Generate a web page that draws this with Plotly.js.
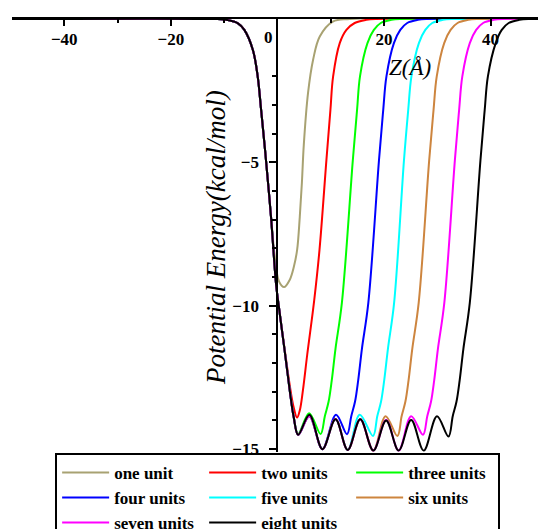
<!DOCTYPE html>
<html>
<head>
<meta charset="utf-8">
<script src="https://cdn.plot.ly/plotly-3.0.1.min.js"></script>
<style>html,body{margin:0;padding:0;background:#fff;}#chart{width:538px;height:529px;}</style>
</head>
<body>
<div id="chart"></div>
<script>
// Shared left wall
const leftWallX = [-50, -12, -9.9, -7.4, -6.2, -4.6, -3.7, -3.05, -2.3, -1.2];
const leftWallY = [0, 0, -0.02, -0.15, -0.38, -1.08, -2.0, -3.18, -4.6, -6.9];

const oneUnitX = [-0.6, 0.3, 1.25, 2.3, 3.1, 3.7, 4.2, 4.6, 4.95, 5.75, 6.7, 7.95, 10.4, 13.6, 50];
const oneUnitY = [-8.1, -9.15, -9.35, -9.1, -8.63, -8.05, -6.9, -5.7, -4.4, -2.58, -1.42, -0.61, -0.09, 0, 0];

const twoUnitsX = [-0.25, 0.25, 1.35, 2.3, 3.0, 3.68, 4.2, 4.8, 5.6, 6.9, 7.9, 9.2, 9.95, 10.45, 11.7, 12.95, 14.5, 16.7, 18.5, 50];
const twoUnitsY = [-9.25, -10.0, -11.5, -12.75, -13.5, -13.9, -13.65, -12.93, -11.7, -9.82, -8.05, -4.91, -3.17, -2.01, -0.84, -0.38, -0.14, -0.03, 0, 0];

const threeUnitsX = [-0.25, 0.25, 1.35, 2.3, 3.05, 3.9, 5.95, 8.1, 8.9, 9.6, 10.2, 10.9, 12.1, 14.15, 14.95, 15.5, 16.9, 18.1, 19.4, 21.4, 23, 50];
const threeUnitsY = [-9.25, -10.0, -11.55, -12.93, -13.87, -14.47, -13.75, -14.47, -13.85, -13.35, -12.6, -11.5, -9.9, -4.93, -3.17, -2.0, -0.84, -0.38, -0.14, -0.03, 0, 0];

const fourUnitsX = [-0.25, 0.25, 1.35, 2.3, 3.05, 3.9, 6.0, 8.45, 11.0, 13.06, 13.86, 14.56, 15.16, 15.86, 17.06, 19.06, 19.86, 20.46, 21.86, 23.06, 24.36, 26.36, 28, 50];
const fourUnitsY = [-9.25, -10.0, -11.55, -12.93, -13.87, -14.5, -13.85, -15.0, -13.8, -14.48, -13.85, -13.35, -12.6, -11.5, -9.9, -4.93, -3.17, -2.0, -0.84, -0.38, -0.14, -0.03, 0, 0];

const fiveUnitsX = [-0.25, 0.25, 1.35, 2.3, 3.05, 3.9, 6.0, 8.45, 10.9, 13.2, 15.45, 17.94, 18.74, 19.44, 20.04, 20.74, 21.9, 23.75, 24.55, 25.15, 26.55, 27.75, 29.05, 31.05, 33, 50];
const fiveUnitsY = [-9.25, -10.0, -11.55, -12.93, -13.87, -14.5, -13.85, -15.0, -13.95, -15.03, -13.8, -14.54, -13.85, -13.35, -12.6, -11.5, -9.9, -4.93, -3.17, -2.0, -0.84, -0.38, -0.14, -0.03, 0, 0];

const sixUnitsX = [-0.25, 0.25, 1.35, 2.3, 3.05, 3.9, 6.0, 8.45, 10.9, 13.2, 15.55, 18.0, 20.3, 22.51, 23.31, 24.01, 24.61, 25.31, 26.51, 28.48, 29.3, 29.9, 31.3, 32.5, 33.8, 35.8, 37.5, 50];
const sixUnitsY = [-9.25, -10.0, -11.55, -12.93, -13.87, -14.5, -13.85, -15.0, -13.95, -15.03, -13.96, -15.05, -13.85, -14.54, -13.85, -13.35, -12.6, -11.5, -9.9, -4.93, -3.17, -2.0, -0.84, -0.38, -0.14, -0.03, 0, 0];

const sevenUnitsX = [-0.25, 0.25, 1.35, 2.3, 3.05, 3.9, 6.0, 8.45, 10.9, 13.2, 15.55, 18.0, 20.4, 22.75, 25.1, 27.32, 28.12, 28.82, 29.42, 30.12, 31.32, 33.3, 34.1, 34.7, 36.1, 37.3, 38.6, 40.6, 42.3, 50];
const sevenUnitsY = [-9.25, -10.0, -11.55, -12.93, -13.87, -14.5, -13.85, -15.0, -13.95, -15.03, -13.96, -15.05, -13.98, -15.05, -13.85, -14.5, -13.85, -13.35, -12.6, -11.5, -9.9, -4.93, -3.17, -2.0, -0.84, -0.38, -0.14, -0.03, 0, 0];

const eightUnitsX = [-0.25, 0.25, 1.35, 2.3, 3.05, 3.9, 6.0, 8.45, 10.9, 13.2, 15.55, 18.0, 20.4, 22.75, 25.1, 27.45, 29.95, 32.1, 32.9, 33.6, 34.2, 34.9, 36.1, 38.1, 38.9, 39.5, 40.96, 42.1, 43.4, 45.4, 47.3, 50];
const eightUnitsY = [-9.25, -10.0, -11.55, -12.93, -13.87, -14.5, -13.8, -15.0, -13.96, -15.03, -13.96, -15.05, -14.0, -15.05, -13.98, -15.05, -13.85, -14.56, -13.85, -13.35, -12.6, -11.5, -9.9, -4.93, -3.17, -2.0, -0.84, -0.38, -0.14, -0.03, 0, 0];

const seriesNames = ['one unit', 'two units', 'three units', 'four units', 'five units', 'six units', 'seven units', 'eight units'];
const seriesColors = ['#a8a272', '#ff0000', '#00ff00', '#0000ff', '#00ffff', '#cd853f', '#ff00ff', '#000000'];
const seriesX = [oneUnitX, twoUnitsX, threeUnitsX, fourUnitsX, fiveUnitsX, sixUnitsX, sevenUnitsX, eightUnitsX];
const seriesY = [oneUnitY, twoUnitsY, threeUnitsY, fourUnitsY, fiveUnitsY, sixUnitsY, sevenUnitsY, eightUnitsY];

const xTickVals = [-40, -20, 20, 40];
const xTickText = ['\u221240', '\u221220', '20', '40'];
const yTickVals = [-15, -10, -5];
const yTickText = ['\u221215', '\u221210', '\u22125'];

const xRange = [-49.8, 48.9];
const yRange = [-15.1, 0];

const traces = seriesNames.map((name, i) => ({
  type: 'scatter', mode: 'lines', name: name,
  x: leftWallX.concat(seriesX[i]),
  y: leftWallY.concat(seriesY[i]),
  line: {color: seriesColors[i], width: 2, shape: 'spline', smoothing: 1},
  hoverinfo: 'skip'
}));

const serif = 'Liberation Serif, Times New Roman, serif';
const tickFont = {family: serif, size: 17, color: '#000', weight: 'bold'};

const layout = {
  width: 538, height: 529,
  margin: {l: 12, r: 0, t: 19, b: 77, pad: 0, autoexpand: false},
  paper_bgcolor: '#fff', plot_bgcolor: '#fff',
  showlegend: true,
  xaxis: {
    range: xRange, side: 'top', anchor: 'y',
    showgrid: false, zeroline: false,
    showline: true, linecolor: '#000', linewidth: 2,
    ticks: 'inside', ticklen: 7, tickwidth: 2, tickcolor: '#000',
    tickvals: xTickVals, ticktext: xTickText,
    ticklabelposition: 'inside', ticklabelstandoff: 8,
    tickfont: tickFont,
    minor: {tickvals: [-30, -10, 10, 30], ticks: 'inside', ticklen: 4, tickwidth: 2, tickcolor: '#000', showgrid: false}
  },
  yaxis: {
    range: yRange, anchor: 'free',
    position: (0 - xRange[0]) / (xRange[1] - xRange[0]),
    showgrid: false, zeroline: false,
    showline: true, linecolor: '#000', linewidth: 2,
    ticks: 'outside', ticklen: 7, tickwidth: 2, tickcolor: '#000',
    tickvals: yTickVals, ticktext: yTickText, ticklabelstandoff: 7,
    tickfont: tickFont,
    minor: {dtick: 1, ticks: 'outside', ticklen: 4, tickwidth: 2, tickcolor: '#000', showgrid: false}
  },
  legend: {
    orientation: 'h', x: 0.082, xanchor: 'left', y: -0.002, yanchor: 'top',
    bgcolor: '#fff', bordercolor: '#000', borderwidth: 2,
    font: {family: serif, size: 17, color: '#000', weight: 'bold'},
    entrywidth: 85, entrywidthmode: 'pixels',
    itemwidth: 47, traceorder: 'normal'
  },
  annotations: [
    {text: 'Z(Å)', xref: 'x', yref: 'y', x: 24.9, y: -1.7, showarrow: false,
     font: {family: serif, size: 23, color: '#000', style: 'italic'}},
    {text: 'Potential Energy(kcal/mol)', xref: 'paper', yref: 'paper', x: (216 - 12) / 526, y: (452 - 238) / 433,
     textangle: -90, showarrow: false, font: {family: serif, size: 27, color: '#000', style: 'italic'}},
    {text: '0', xref: 'x', yref: 'y', x: -1.7, y: -0.65, showarrow: false, font: tickFont}
  ]
};

Plotly.newPlot('chart', traces, layout, {staticPlot: true, displayModeBar: false});
</script>
</body>
</html>
